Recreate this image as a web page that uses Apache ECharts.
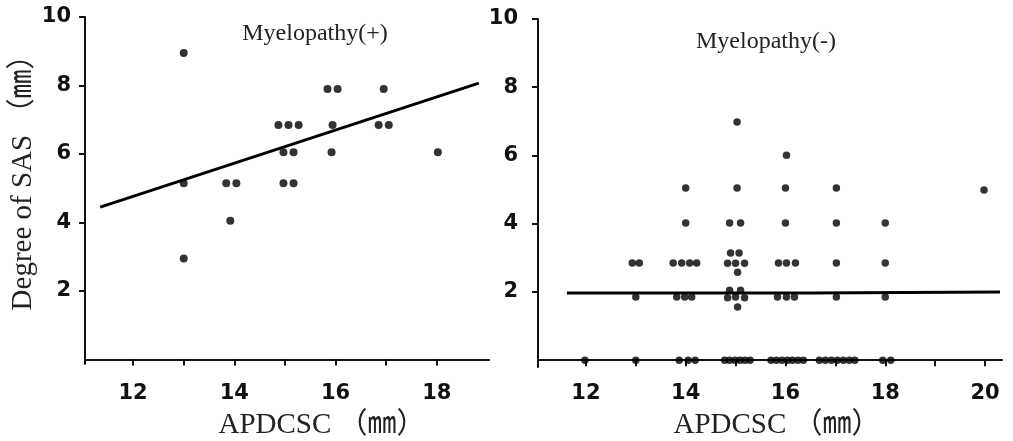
<!DOCTYPE html>
<html>
<head>
<meta charset="utf-8">
<script src="https://cdn.jsdelivr.net/npm/echarts@6/dist/echarts.min.js"></script>
<style>
html, body { margin: 0; padding: 0; background: #fff; }
#chart { width: 1013px; height: 441px; }
</style>
</head>
<body>
<div id="chart"></div>
<script>
// Myelopathy(+) : APDCSC (mm) vs degree of SAS (mm)
var plusPoints = [
	[13.0, 8.95], [13.0, 5.15], [13.0, 2.95],
	[13.84, 5.15], [14.04, 5.15], [13.92, 4.05],
	[14.87, 6.85], [15.07, 6.85], [15.27, 6.85],
	[14.97, 6.05], [15.17, 6.05], [14.97, 5.15], [15.17, 5.15],
	[15.84, 7.9], [16.04, 7.9], [15.94, 6.85], [15.92, 6.05],
	[16.95, 7.9], [16.85, 6.85], [17.05, 6.85],
	[18.02, 6.05]
];
var plusLine = [[11.35, 4.45], [18.83, 8.07]];

// Myelopathy(-)
var minusPoints = [
	[11.98, 0],
	[12.93, 2.85], [13.07, 2.85], [13.0, 1.85], [13.0, 0],
	[14.0, 5.05], [14.0, 4.02],
	[13.75, 2.85], [13.92, 2.85], [14.08, 2.85], [14.22, 2.85],
	[13.82, 1.85], [13.98, 1.85], [14.12, 1.85],
	[13.87, 0], [14.05, 0], [14.19, 0],
	[15.03, 6.98], [15.03, 5.05], [14.88, 4.02], [15.1, 4.02],
	[14.9, 3.14], [15.07, 3.14], [14.84, 2.84], [15.0, 2.84], [15.18, 2.84], [15.04, 2.58],
	[14.88, 2.05], [15.1, 2.05], [14.84, 1.83], [15.0, 1.85], [15.18, 1.83], [15.04, 1.56],
	[14.78, 0], [14.88, 0], [14.99, 0], [15.09, 0], [15.19, 0], [15.29, 0],
	[16.02, 6.01], [16.0, 5.05], [16.0, 4.02],
	[15.86, 2.85], [16.02, 2.85], [16.2, 2.85],
	[15.84, 1.85], [16.02, 1.85], [16.18, 1.85],
	[15.71, 0], [15.82, 0], [15.93, 0], [16.04, 0], [16.14, 0], [16.25, 0], [16.36, 0],
	[17.02, 5.05], [17.02, 4.02], [17.02, 2.85], [17.02, 1.85],
	[16.68, 0], [16.8, 0], [16.92, 0], [17.04, 0], [17.16, 0], [17.28, 0], [17.39, 0],
	[18.0, 4.02], [18.0, 2.85], [18.0, 1.85], [17.95, 0], [18.11, 0],
	[19.98, 4.99]
];
var minusLine = [[11.62, 1.97], [16.5, 1.97], [16.5, 2.0], [20.3, 2.0]];

var plusXTicks = [12, 13, 14, 15, 16, 17, 18];
var plusXLabels = [12, 14, 16, 18];
var minusXTicks = [12, 13, 14, 15, 16, 17, 18, 19, 20];
var minusXLabels = [12, 14, 16, 18, 20];
var yTicks = [2, 4, 6, 8, 10];

var xName = 'APDCSC （㎜）';
var yName = 'Degree of SAS （㎜）';

var chart = echarts.init(document.getElementById('chart'));

var tickFont = {
	fontFamily: 'DejaVu Sans',
	fontWeight: 'bold',
	fontSize: 21,
	color: '#111'
};
var nameFont = {
	fontFamily: "'Liberation Serif', 'Noto Sans CJK SC'",
	fontSize: 29,
	color: '#222'
};
var axisLine = { show: true, lineStyle: { color: '#111', width: 2 } };

function xAxisOf(idx, min, max, ticks, labels, margin, gap, pad) {
	return {
		type: 'value', gridIndex: idx, min: min, max: max,
		axisLine: axisLine,
		axisTick: { show: true, length: 6, lineStyle: { color: '#111', width: 2 }, customValues: ticks },
		axisLabel: Object.assign({ margin: margin, customValues: labels }, tickFont),
		splitLine: { show: false },
		name: xName, nameLocation: 'middle', nameGap: gap,
		nameTextStyle: Object.assign({ padding: pad }, nameFont)
	};
}
function yAxisOf(idx, min, margin, withName) {
	var ax = {
		type: 'value', gridIndex: idx, min: min, max: 10,
		axisLine: axisLine,
		axisTick: { show: true, length: 6, lineStyle: { color: '#111', width: 2 }, customValues: yTicks },
		axisLabel: Object.assign({ margin: margin, customValues: yTicks }, tickFont),
		splitLine: { show: false }
	};
	if (withName) {
		ax.name = yName;
		ax.nameLocation = 'middle';
		ax.nameGap = 46;
		ax.nameTextStyle = Object.assign({ padding: [0, 0, 0, 30] }, nameFont);
	}
	return ax;
}

var option = {
	backgroundColor: '#fff',
	animation: false,
	grid: [
		{ left: 85, top: 17, width: 404, height: 347, outerBoundsMode: 'none', containLabel: false },
		{ left: 538, top: 19, width: 464, height: 348, outerBoundsMode: 'none', containLabel: false }
	],
	xAxis: [
		xAxisOf(0, 11.05, 19.03, plusXTicks, plusXLabels, 19, 47, [0, 0, 0, 70]),
		xAxisOf(1, 11.04, 20.34, minusXTicks, minusXLabels, 16, 44, [0, 0, 0, 14])
	],
	yAxis: [
		yAxisOf(0, -0.13, 14, true),
		yAxisOf(1, -0.2, 20, false)
	],
	graphic: [
		{ type: 'text', x: 315, y: 34, style: { text: 'Myelopathy(+)', textAlign: 'center', textVerticalAlign: 'middle', align: 'center', verticalAlign: 'middle', font: "24px 'Liberation Serif'", fill: '#222' } },
		{ type: 'text', x: 766, y: 42, style: { text: 'Myelopathy(-)', textAlign: 'center', textVerticalAlign: 'middle', align: 'center', verticalAlign: 'middle', font: "24px 'Liberation Serif'", fill: '#222' } }
	],
	series: [
		{
			type: 'scatter', xAxisIndex: 0, yAxisIndex: 0,
			symbolSize: 8, itemStyle: { color: '#000' },
			data: plusPoints
		},
		{
			type: 'line', xAxisIndex: 0, yAxisIndex: 0,
			showSymbol: false, silent: true,
			lineStyle: { color: '#000', width: 3 },
			data: plusLine
		},
		{
			type: 'scatter', xAxisIndex: 1, yAxisIndex: 1,
			symbolSize: 7.5, itemStyle: { color: '#000' },
			data: minusPoints
		},
		{
			type: 'line', xAxisIndex: 1, yAxisIndex: 1,
			showSymbol: false, silent: true,
			lineStyle: { color: '#000', width: 3 },
			data: minusLine
		}
	]
};
chart.setOption(option);
</script>
</body>
</html>
